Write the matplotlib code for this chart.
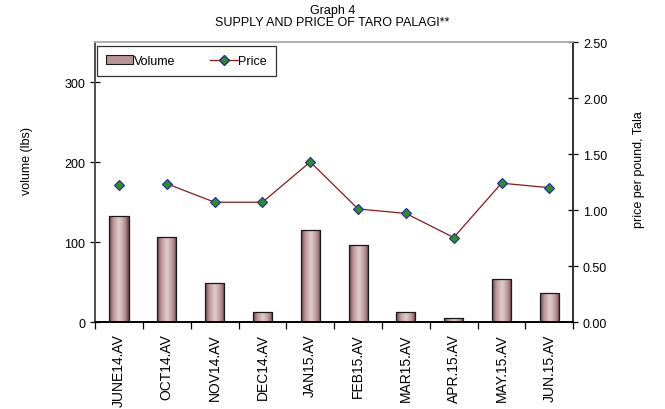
import numpy as np
import matplotlib.pyplot as plt
from matplotlib.lines import Line2D
from matplotlib.patches import Patch

plt.rcParams['font.family'] = ['Liberation Sans', 'DejaVu Sans']

months = ['JUNE14.AV', 'OCT14.AV', 'NOV14.AV', 'DEC14.AV', 'JAN15.AV',
          'FEB15.AV', 'MAR15.AV', 'APR.15.AV', 'MAY.15.AV', 'JUN.15.AV']
volume = [133, 106, 49, 12, 115, 96, 12, 5, 54, 36]
price = [1.22, 1.235, 1.07, 1.07, 1.43, 1.01, 0.97, 0.755, 1.24, 1.20]

fig = plt.figure(figsize=(6.65, 4.10), dpi=100)
ax = fig.add_axes([0.143, 0.212, 0.719, 0.683])
ax2 = ax.twinx()

x = np.arange(len(months))
bar_w = 0.4

# bars with a cylinder-like shading
grad = np.abs(np.linspace(-1, 1, 64))
cmap = plt.matplotlib.colors.LinearSegmentedColormap.from_list(
    'taro', ['#dcc8ca', '#b89496', '#6e3e40'])
bars = ax.bar(x, volume, width=bar_w, facecolor='none', edgecolor='#1a1a1a',
              linewidth=0.9, zorder=3)
for b in bars:
    x0, y0 = b.get_x(), b.get_y()
    im = ax.imshow(grad[np.newaxis, :] ** 1.3, cmap=cmap, aspect='auto',
                   extent=[x0, x0 + b.get_width(), y0, y0 + b.get_height()],
                   zorder=2, vmin=0, vmax=1)
    im.set_clip_path(b)

ax.set_xlim(-0.5, len(months) - 0.5)
ax.set_ylim(0, 350)
ax.set_yticks([0, 100, 200, 300])
ax.set_xticks(x)
ax.set_xticklabels(months, rotation=90, fontsize=10)
ax.set_xticks(np.arange(-0.5, len(months), 1.0), minor=True)
ax.tick_params(axis='x', which='major', length=0, pad=8)
ax.tick_params(axis='x', which='minor', length=5, direction='out', width=0.9)
ax.tick_params(axis='y', direction='inout', length=7, labelsize=9, width=0.9)
ax.set_ylabel('volume (lbs)', fontsize=9)
ax.yaxis.set_label_coords(-0.13, 0.58)

# price line (no link across the missing months between June and October)
ax2.plot(x[1:], price[1:], color='#8b1a1a', linewidth=0.9, zorder=4)
ax2.plot(x, price, linestyle='none', marker='D', markersize=5.5,
         markerfacecolor='#2e8b2e', markeredgecolor='#1c2c9c',
         markeredgewidth=0.8, zorder=5)
ax2.set_ylim(0, 2.5)
ax2.set_yticks([0, 0.5, 1.0, 1.5, 2.0, 2.5])
ax2.set_yticklabels(['0.00', '0.50', '1.00', '1.50', '2.00', '2.50'])
ax2.tick_params(axis='y', direction='inout', length=7, labelsize=9, width=0.9)
ax2.set_ylabel('price per pound, Tala', fontsize=9)
ax2.yaxis.set_label_coords(1.125, 0.55)

for a in (ax, ax2):
    a.spines['top'].set_color('#b0b0b0')
    a.spines['left'].set_color('#505050')
    a.spines['right'].set_color('#303030')
    a.spines['bottom'].set_color('#000000')
    for s in a.spines.values():
        s.set_linewidth(1.2)
ax.set_zorder(ax2.get_zorder() - 1)
ax2.patch.set_visible(False)

handles = [Patch(facecolor='#b89496', edgecolor='#1a1a1a', linewidth=0.8),
           Line2D([], [], color='#8b1a1a', linewidth=0.9, marker='D',
                  markersize=5, markerfacecolor='#2e8b2e',
                  markeredgecolor='#1c2c9c')]
leg = ax2.legend(handles, ['Volume', 'Price'], loc='upper left', ncol=2,
                 bbox_to_anchor=(0.004, 0.985), fontsize=9, frameon=True,
                 fancybox=False, edgecolor='black', handlelength=2.2,
                 handletextpad=0.05, columnspacing=2.8, borderpad=0.7,
                 borderaxespad=0.0)
leg.get_frame().set_linewidth(0.9)
leg._legend_box.align = 'center'

fig.text(0.5, 0.988, 'Graph 4', ha='center', va='top', fontsize=9)
fig.text(0.5, 0.958, 'SUPPLY AND PRICE OF TARO PALAGI**', ha='center',
         va='top', fontsize=9)

fig.savefig('out.png', dpi=100)
